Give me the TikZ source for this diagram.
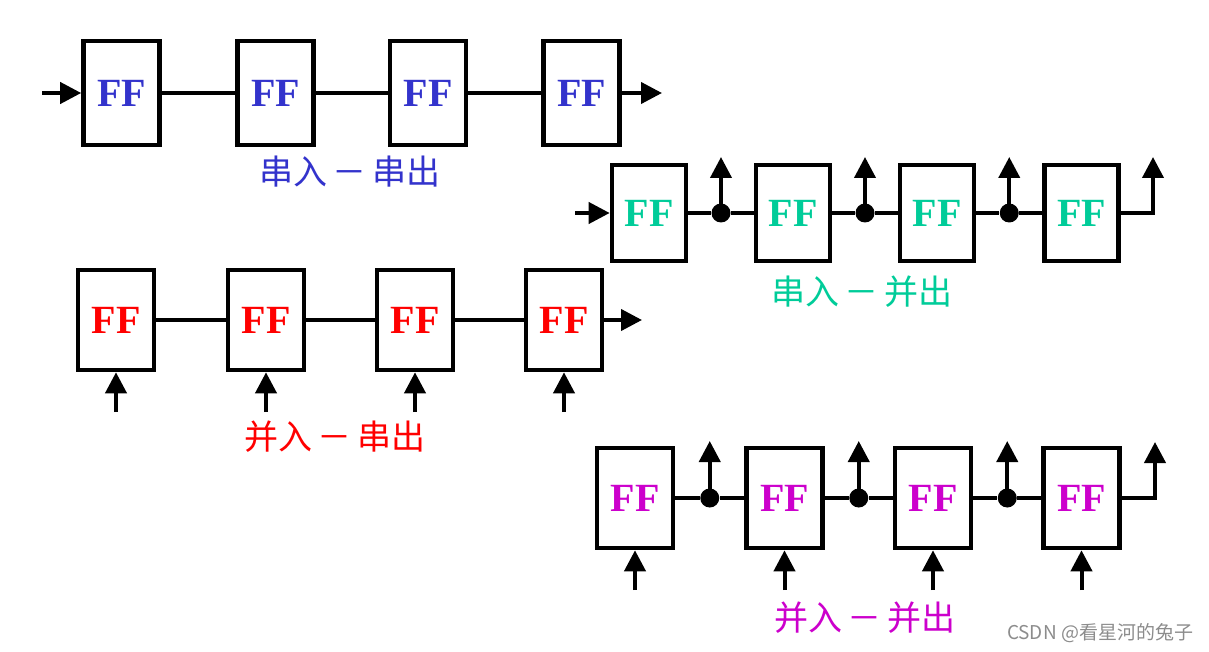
\documentclass[tikz,border=0pt]{standalone}
\usepackage{fontspec}
\setmainfont{Liberation Serif}
\newfontfamily\cjk{Noto Sans CJK SC}
\usetikzlibrary{arrows.meta,calc}
\definecolor{ssblue}{RGB}{51,51,204}
\definecolor{spgreen}{RGB}{0,204,153}
\definecolor{psred}{RGB}{255,0,0}
\definecolor{ppmagenta}{RGB}{204,0,204}
\tikzset{
  ffbox/.style={draw, line width=2.3pt, minimum width=38pt, minimum height=50pt, inner sep=0pt,
    font=\bfseries\fontsize{20}{20}\selectfont},
  wire/.style={line width=2pt},
  sig/.style={wire, -{Triangle[length=10.5pt,width=10.5pt]}},
  tap/.style={circle, fill, inner sep=0pt, minimum size=9.5pt},
  caption/.style={font=\cjk\fontsize{17}{17}\selectfont}
}
\begin{document}
\begin{tikzpicture}[x=0.5pt,y=-0.5pt]
\useasboundingbox (0,0) rectangle (1209,652);

% serial in - serial out
\foreach \i/\x in {1/121.5,2/275.5,3/428,4/581.5}
    \node[ffbox, minimum height=52pt, text=ssblue] (a\i) at (\x,93) {FF};
\coordinate (ain) at (42,93);
\coordinate (aout) at (662,93);
\draw[sig] (ain) -- (a1);
\foreach \i/\j in {1/2,2/3,3/4}
    \draw[wire] (a\i) -- (a\j);
\draw[sig] (a4) -- (aout);
\node[caption, text=ssblue] (acap) at (350,172) {串入\hspace{3pt}－\hspace{3pt}串出};

% serial in - parallel out
\foreach \i/\x in {1/649,2/793,3/937,4/1081.5}
    \node[ffbox, minimum width=37pt, minimum height=48pt, text=spgreen] (b\i) at (\x,213) {FF};
\coordinate (bin) at (575,213);
\draw[sig] (bin) -- (b1);
\foreach \i/\j in {1/2,2/3,3/4} {
    \path ($(b\i.east)!0.5!(b\j.west)$) node[tap] (bt\i) {};
    \coordinate (bo\i) at ($(bt\i)+(0,-56)$);
    \draw[wire] (b\i) -- (bt\i) -- (b\j);
    \draw[sig] (bt\i.center) -- (bo\i);
}
\coordinate (bc) at (1153,213);
\coordinate (bo4) at (1153,157);
\draw[sig] (b4) -- (bc) -- (bo4);
\node[caption, text=spgreen] (bcap) at (862,292) {串入\hspace{3pt}－\hspace{3pt}并出};

% parallel in - serial out
\foreach \i/\x in {1/116,2/266,3/415,4/564} {
    \node[ffbox, text=psred] (c\i) at (\x,320) {FF};
    \coordinate (ci\i) at (\x,412);
    \draw[sig] (ci\i) -- (c\i);
}
\coordinate (cout) at (642,320);
\foreach \i/\j in {1/2,2/3,3/4}
    \draw[wire] (c\i) -- (c\j);
\draw[sig] (c4) -- (cout);
\node[caption, text=psred] (ccap) at (335,437) {并入\hspace{3pt}－\hspace{3pt}串出};

% parallel in - parallel out
\foreach \i/\x in {1/635,2/784.5,3/933,4/1081.5} {
    \node[ffbox, text=ppmagenta] (d\i) at (\x,498) {FF};
    \coordinate (di\i) at (\x,590);
    \draw[sig] (di\i) -- (d\i);
}
\foreach \i/\j in {1/2,2/3,3/4} {
    \path ($(d\i.east)!0.5!(d\j.west)$) node[tap] (dt\i) {};
    \coordinate (do\i) at ($(dt\i)+(0,-57)$);
    \draw[wire] (d\i) -- (dt\i) -- (d\j);
    \draw[sig] (dt\i.center) -- (do\i);
}
\coordinate (dc) at (1155,498);
\coordinate (do4) at (1155,442);
\draw[sig] (d4) -- (dc) -- (do4);
\node[caption, text=ppmagenta] (dcap) at (865,618) {并入\hspace{3pt}－\hspace{3pt}并出};

\node[font=\cjk\fontsize{9.5}{9.5}\selectfont, text=black!45] (mark) at (1100,633) {CSDN @看星河的兔子};
\end{tikzpicture}
\end{document}
